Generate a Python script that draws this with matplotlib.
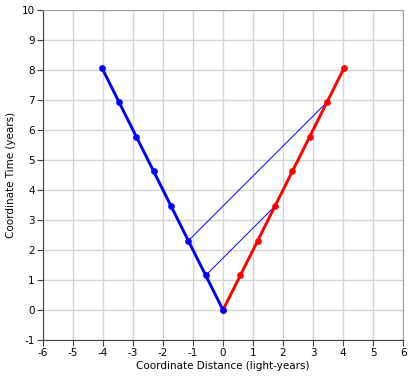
import numpy as np
import matplotlib
matplotlib.use('Agg')
import matplotlib.pyplot as plt

# worldline points (proper-time ticks)
t_pts = [0, 1.155, 2.309, 3.464, 4.619, 5.774, 6.928, 8.083]
x_red = [0, 0.577, 1.155, 1.732, 2.309, 2.887, 3.464, 4.041]
x_blue = [0, -0.577, -1.155, -1.732, -2.309, -2.887, -3.464, -4.041]

# light signals: (blue index, red index)
signals = [(1, 3), (2, 6)]

plt.rcParams['font.family'] = 'DejaVu Sans'
plt.rcParams['font.size'] = 7.5
plt.rcParams['axes.unicode_minus'] = False

fig = plt.figure(figsize=(4.13, 3.78), dpi=100)
ax = fig.add_axes([0.104, 0.1005, 0.872, 0.873])

for bi, ri in signals:
    ax.plot([x_blue[bi], x_red[ri]], [t_pts[bi], t_pts[ri]], color='#0000ff', lw=0.7, zorder=3)

ax.plot(x_red, t_pts, color='#ff0000', lw=2.1, marker='o', ms=3.8, zorder=4)
ax.plot(x_blue, t_pts, color='#0000ff', lw=2.1, marker='o', ms=3.8, zorder=5)

ax.set_xlim(-6, 6)
ax.set_ylim(-1, 10)
ax.set_xticks(np.arange(-6, 7, 1))
ax.set_yticks(np.arange(-1, 11, 1))
ax.grid(True, color='#d4d4d4', lw=1)
ax.set_axisbelow(True)
for s in ['top', 'right']:
    ax.spines[s].set_color('#a0a0a0')
for s in ['left', 'bottom']:
    ax.spines[s].set_color('#404040')
ax.tick_params(direction='out', length=4, color='#404040', pad=2)
ax.set_xlabel('Coordinate Distance (light-years)', labelpad=2)
ax.set_ylabel('Coordinate Time (years)', labelpad=4)

fig.savefig('out.png', dpi=100)
